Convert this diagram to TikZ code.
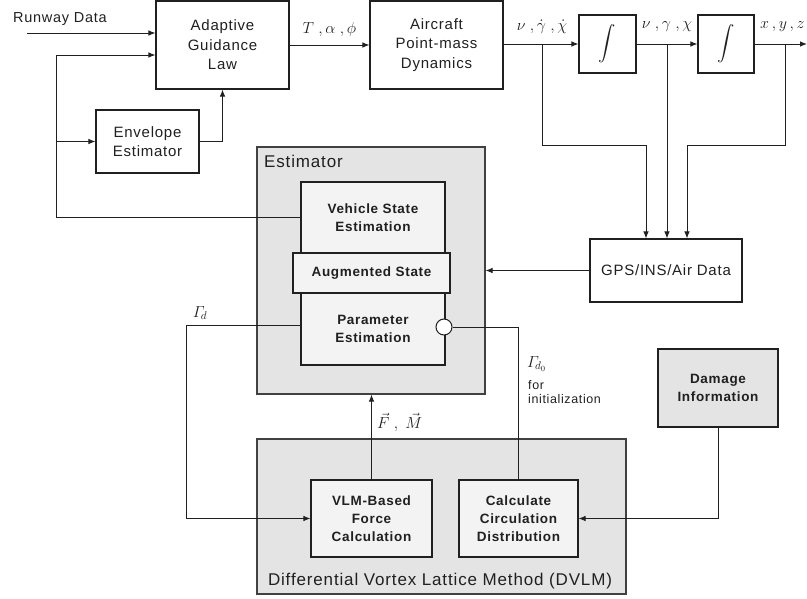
\RequirePackage{fix-cm}
\documentclass[tikz,border=0pt]{standalone}
\usepackage{exscale}
\usepackage{fontspec}
\setmainfont{Liberation Sans}[LetterSpace=5]
\usetikzlibrary{arrows.meta,calc}
\definecolor{ink}{HTML}{202020}
\definecolor{panel}{HTML}{E4E4E4}
\definecolor{inner}{HTML}{F3F3F3}
\tikzset{
  blk/.style={draw=ink, line width=1.1pt, fill=white, align=center, inner sep=0pt,
    text=ink, font=\fontsize{15}{19.5}\selectfont},
  bblk/.style={blk, fill=inner, font=\bfseries\fontsize{13.5}{18}\selectfont},
  grp/.style={draw=ink!85, line width=1.1pt, fill=panel, inner sep=0pt},
  wire/.style={draw=ink, line width=0.9pt},
  arr/.style={wire, -{Latex[length=7pt,width=5.5pt]}},
  lbl/.style={text=ink, inner sep=0pt, font=\fontsize{14.5}{17}\selectfont},
  mlbl/.style={text=ink, inner sep=0pt, font=\fontsize{16}{17}\selectfont},
  intg/.style={blk, font=\fontsize{19}{20}\selectfont},
}
\begin{document}
\begin{tikzpicture}[x=1pt,y=-1pt]
\useasboundingbox (0,0) rectangle (807,598);

% grey group panels
\node[grp, minimum width=228pt, minimum height=247pt] (est) at (371,270.5) {};
\node[lbl, anchor=west, font=\fontsize{17}{18}\selectfont] (estlbl) at (264,161) {Estimator};
\node[grp, minimum width=369pt, minimum height=155pt] (dvlm) at (441.5,516.5) {};
\node[lbl, font=\fontsize{17}{18}\selectfont] (dvlmlbl) at (440,581) {Differential Vortex Lattice Method (DVLM)};

% top row blocks
\node[blk, minimum width=133pt, minimum height=88pt] (guid) at (222.5,45) {Adaptive\\Guidance\\Law};
\node[blk, minimum width=133pt, minimum height=88pt] (air) at (436.5,45) {Aircraft\\Point-mass\\Dynamics};
\node[intg, minimum width=57pt, minimum height=58pt] (int1) at (607.5,44) {$\displaystyle\int$};
\node[intg, minimum width=56pt, minimum height=58pt] (int2) at (726,44) {$\displaystyle\int$};
\node[blk, minimum width=103pt, minimum height=63pt] (env) at (147.5,141.5) {Envelope\\Estimator};
\node[blk, minimum width=152pt, minimum height=63pt] (gps) at (666,270.5) {GPS/INS/Air Data};

% estimator internals
\node[bblk, minimum width=144pt, minimum height=71pt] (vse) at (373,217.5) {Vehicle State\\Estimation};
\node[bblk, minimum width=144pt, minimum height=72pt] (par) at (373,329) {Parameter\\Estimation};
\node[bblk, minimum width=157pt, minimum height=40pt] (aug) at (371.5,273) {Augmented State};
\node[draw=ink, line width=1pt, fill=white, circle, minimum size=16pt, inner sep=0pt] (circ) at (444,327) {};

% DVLM internals and damage input
\node[bblk, minimum width=121pt, minimum height=77pt] (vlm) at (371.5,518.5) {VLM-Based\\Force\\Calculation};
\node[bblk, minimum width=119pt, minimum height=77pt] (calc) at (518.5,518.5) {Calculate\\Circulation\\Distribution};
\node[bblk, fill=panel, minimum width=120pt, minimum height=78pt] (dmg) at (718,388) {Damage\\Information};

% free ends and bend points
\coordinate (rw) at (27,33);
\coordinate (fb) at (56,55);
\coordinate (b1) at (542,44);
\coordinate (b2) at (667,44);
\coordinate (b3) at (785,44);
\coordinate (out) at (807,44);
\coordinate (gd) at (186,325);

% signal flow
\node[lbl, anchor=west] (rwlbl) at (13,19) {Runway Data};
\draw[arr] (rw) -- (rw -| guid.west);
\draw[arr] (vse.west) -| (fb) -- (fb -| guid.west);
\draw[arr] (fb |- env.west) -- (env.west);
\draw[arr] (env.east) -| (guid.south);
\draw[arr] (guid.east) -- (air.west)
  node[mlbl, midway, above=8pt] (tal) {$T\;,\alpha\;,\phi$};
\draw[arr] (air.east |- int1.west) -- (int1.west);
\draw[arr] (int1.east) -- (int2.west);
\draw[arr] (int2.east) -- (out);
\node[mlbl] (l1) at (542,27) {$\nu\;,\dot\gamma\;,\dot\chi$};
\node[mlbl] (l2) at (667,27) {$\nu\;,\gamma\;,\chi$};
\node[mlbl, anchor=west] (l3) at (760,27) {$x\,,y\,,z$};

\draw[arr] (b1) -- (b1 |- 0,145) -| ($(gps.north)+(-20,0)$);
\draw[arr] (b2) -- (b2 |- gps.north);
\draw[arr] (b3) -- (b3 |- 0,145) -| ($(gps.north)+(21,0)$);
\draw[arr] (gps.west) -- (gps.west -| est.east);

\draw[wire] (circ.east) -| (calc.north);
\draw[arr] (par.west |- gd) -- (gd) |- (vlm.west);
\node[mlbl] (gdl) at (200,313) {$\mathnormal{\Gamma}_{\!d}$};
\draw[arr] (vlm.north) -- (vlm.north |- est.south);
\node[mlbl, anchor=west] (fml) at (377,422) {$\vec F\;,\;\vec M$};
\node[mlbl, anchor=west] (gd0) at (527,364) {$\mathnormal{\Gamma}_{\!d_0}$};
\node[lbl, anchor=north west, align=left, font=\fontsize{12.5}{14}\selectfont] (init) at (528,380) {for\\initialization};
\draw[arr] (dmg.south) |- (calc.east);
\end{tikzpicture}
\end{document}
